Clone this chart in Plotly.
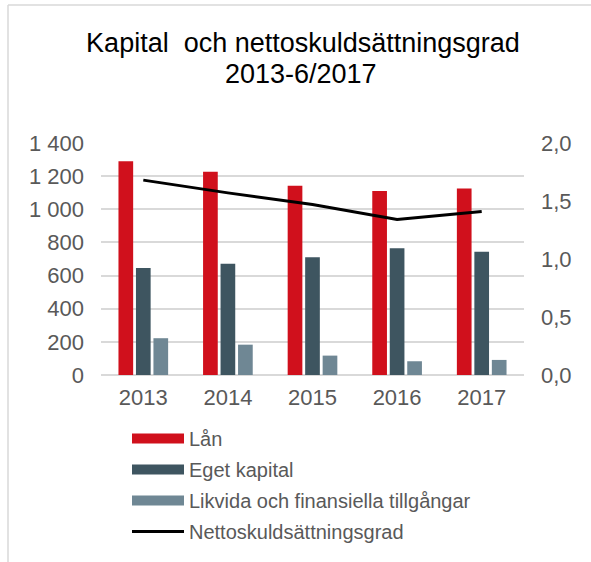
import plotly.graph_objects as go

years = ["2013", "2014", "2015", "2016", "2017"]
lan = [1290, 1226, 1142, 1110, 1126]
eget_kapital = [645, 671, 711, 765, 743]
likvida = [222, 183, 117, 83, 91]
netto = [1.68, 1.57, 1.47, 1.34, 1.41]

names = ["Lån", "Eget kapital", "Likvida och finansiella tillgångar", "Nettoskuldsättningsgrad"]
colors = ["#D0101C", "#3E5560", "#6F8794", "#000000"]
title_lines = ["Kapital \u00a0och nettoskuldsättningsgrad", "2013-6/2017"]

W, H = 591, 562
L, R, T, B = 101, 67, 143, 187
pw, ph = W - L - R, H - T - B

FONT = "Liberation Sans, Arial, sans-serif"
GRAY = "#595959"
GRID = "#D9D9D9"

fig = go.Figure()
for vals, name, col in zip([lan, eget_kapital, likvida], names[:3], colors[:3]):
    fig.add_trace(go.Bar(x=years, y=vals, name=name, marker=dict(color=col, line=dict(width=0)),
                         showlegend=False))
fig.add_trace(go.Scatter(x=years, y=netto, name=names[3], mode="lines", yaxis="y2",
                         line=dict(color="#000000", width=3), showlegend=False))

# legend entries
for i, (name, col) in enumerate(zip(names, colors)):
    fig.add_trace(go.Scatter(x=[None], y=[None], mode="lines", name=name,
                             legendgroup=str(i),
                             line=dict(color=col, width=11 if i < 3 else 3)))


def px_x(p):
    return (p - L) / pw


def px_y(p):
    return (H - B - p) / ph


fig.update_layout(
    template="none",
    width=W, height=H,
    margin=dict(l=L, r=R, t=T, b=B, autoexpand=False),
    paper_bgcolor="white", plot_bgcolor="white",
    separators=", ",
    font=dict(family=FONT, size=20, color=GRAY),
    title=dict(text=title_lines[0],
               font=dict(family=FONT, size=27, color="#000000"),
               x=303 / W, xanchor="center", xref="container",
               y=1 - 43 / H, yanchor="middle", yref="container"),
    annotations=[dict(text=title_lines[1], showarrow=False, xref="paper", yref="paper",
                      x=px_x(301), y=px_y(74), xanchor="center", yanchor="middle",
                      font=dict(family=FONT, size=27, color="#000000"))],
    barmode="group", bargap=0.38, bargroupgap=0.16,
    xaxis=dict(showgrid=False, showline=False, zeroline=False, ticks="", ticklabelstandoff=7,
               tickfont=dict(size=22, color=GRAY)),
    yaxis=dict(range=[0, 1400], dtick=200, tickformat=",d", showgrid=True,
               gridcolor=GRID, gridwidth=1.5, zeroline=True, zerolinecolor=GRID,
               zerolinewidth=1.5, showline=False, ticks="", ticklabelstandoff=16,
               tickfont=dict(size=22, color=GRAY)),
    yaxis2=dict(range=[0, 2.0], dtick=0.5, tickformat=".1f", overlaying="y", side="right",
                showgrid=False, zeroline=False, showline=False, ticks="", ticklabelstandoff=16,
                tickfont=dict(size=22, color=GRAY)),
    legend=dict(orientation="v", x=px_x(127), xanchor="left", y=px_y(419), yanchor="top",
                font=dict(size=20, color=GRAY), itemwidth=52, tracegroupgap=2,
                bgcolor="rgba(0,0,0,0)", borderwidth=0),
    shapes=[
        dict(type="line", xref="paper", yref="paper", x0=px_x(8), x1=px_x(W + 5),
             y0=px_y(5), y1=px_y(5), line=dict(color=GRID, width=1.5)),
        dict(type="line", xref="paper", yref="paper", x0=px_x(8), x1=px_x(8),
             y0=px_y(5), y1=px_y(H + 5), line=dict(color=GRID, width=1.5)),
    ],
)

fig.write_html("out.html", config={"displayModeBar": False},
               post_script="document.body.style.margin='0px';")
